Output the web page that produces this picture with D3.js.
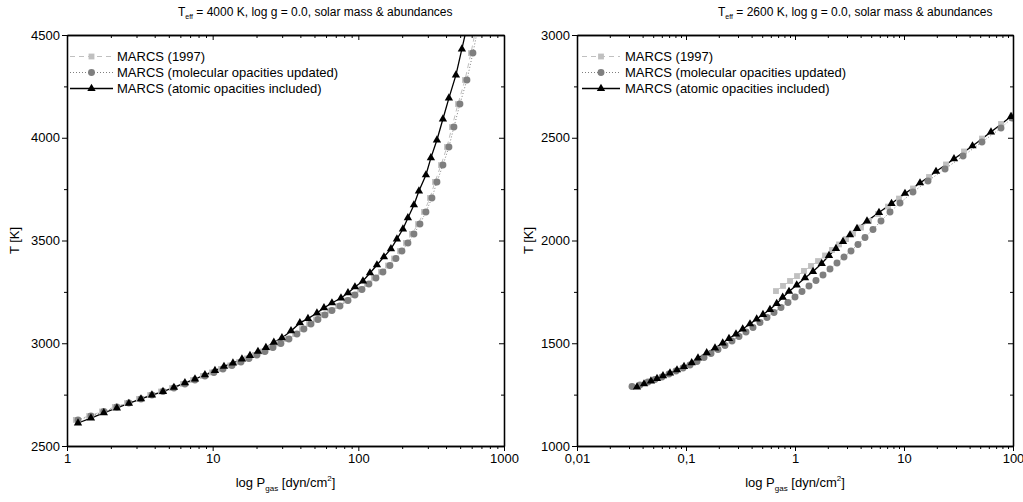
<!DOCTYPE html>
<html>
<head>
<meta charset="utf-8">
<script src="https://cdn.jsdelivr.net/npm/d3@7"></script>
<style>
  body { margin: 0; background: #fff; }
  svg text { font-family: "Liberation Sans", Arial, sans-serif; fill: #000; }
</style>
</head>
<body>
<div id="chart"></div>
<script>
// ---- left panel: Teff = 4000 K ----
const leftP_1997 = [1.15, 1.42, 1.74, 2.13, 2.58, 3.12, 3.72, 4.42, 5.26, 6.26, 7.33, 8.58, 9.89, 11.4, 13.2, 15.2, 17.2, 19.5, 22.2, 25.2, 28.5, 32.4, 36.8, 41.0, 45.9, 51.2, 57.2, 63.9, 72.6, 82.4, 92.0, 102.7, 114.7, 128.1, 143.1, 159.9, 175.8, 193.2, 212.4, 233.6, 256.9, 282.4, 310.4, 336.0, 369.4, 406.0, 439.5, 483.2, 539.8, 593.3, 642.3]
const leftT_1997 = [2627, 2646, 2668, 2690, 2709, 2729, 2748, 2765, 2782, 2802, 2821, 2841, 2858, 2875, 2892, 2909, 2926, 2943, 2960, 2979, 2999, 3021, 3045, 3069, 3094, 3116, 3138, 3159, 3181, 3208, 3235, 3262, 3288, 3318, 3347, 3378, 3412, 3449, 3488, 3532, 3580, 3639, 3707, 3785, 3867, 3955, 4052, 4164, 4281, 4412, 4534]

const leftP_mol = [1.19, 1.46, 1.79, 2.20, 2.66, 3.22, 3.83, 4.56, 5.42, 6.45, 7.56, 8.85, 10.2, 11.77, 13.57, 15.64, 17.75, 20.14, 22.86, 25.94, 29.4, 33.4, 37.9, 42.3, 47.3, 52.8, 59.0, 65.9, 74.8, 84.9, 94.8, 105.9, 118.2, 132.1, 147.5, 164.8, 181.2, 199.2, 219, 240.8, 264.8, 291.1, 320, 346.4, 380.8, 418.6, 453.1, 498.1, 556.5, 611.7, 662.2]
const leftT_mol = [2627, 2646, 2668, 2690, 2709, 2729, 2748, 2765, 2782, 2802, 2821, 2841, 2858, 2875, 2892, 2909, 2926, 2943, 2960, 2979, 2999, 3021, 3045, 3069, 3094, 3116, 3138, 3159, 3181, 3208, 3235, 3262, 3288, 3318, 3347, 3378, 3412, 3449, 3488, 3532, 3580, 3639, 3707, 3785, 3867, 3955, 4052, 4164, 4281, 4412, 4534]

const leftP_atom = [1.19, 1.46, 1.79, 2.20, 2.66, 3.22, 3.83, 4.56, 5.42, 6.45, 7.56, 8.85, 10.37, 11.96, 13.78, 15.89, 18.03, 20.46, 23.2, 26.3, 29.9, 34.5, 39.7, 45.1, 52.0, 58.1, 65.9, 76.0, 84.9, 94.8, 107.6, 120.2, 134.2, 149.9, 167.4, 184.0, 202.4, 218.9, 240.8, 260.6, 291.1, 314.9, 346.4, 380.8, 418.6, 467.7, 514, 556]
const leftT_atom = [2612, 2636, 2661, 2685, 2707, 2729, 2748, 2765, 2785, 2807, 2826, 2846, 2867, 2887, 2904, 2923, 2940, 2960, 2979, 3004, 3026, 3060, 3099, 3120, 3147, 3172, 3196, 3220, 3245, 3274, 3303, 3342, 3381, 3420, 3459, 3507, 3556, 3610, 3673, 3741, 3819, 3902, 3989, 4091, 4193, 4305, 4432, 4539]

// ---- right panel: Teff = 2600 K ----
const rightP_1997 = [0.669, 0.776, 0.900, 1.043, 1.209, 1.402, 1.626, 1.885, 2.185, 2.533, 2.937, 3.405, 4.032, 4.774, 5.775, 7.134, 8.996, 12.09, 16.96, 24.28, 35.52, 51.94, 77.6, 99]
const rightT_1997 = [1754, 1779, 1803, 1827, 1852, 1876, 1900, 1927, 1954, 1981, 2007, 2034, 2063, 2095, 2129, 2165, 2204, 2253, 2309, 2370, 2433, 2496, 2567, 2608]

const rightP_mol = [0.03196, 0.0378, 0.0448, 0.0519, 0.0602, 0.0698, 0.081, 0.0939, 0.1088, 0.1262, 0.1463, 0.1696, 0.1966, 0.2279, 0.2642, 0.3063, 0.3552, 0.4118, 0.4774, 0.5535, 0.6418, 0.744, 0.8625, 1.0, 1.159, 1.344, 1.558, 1.807, 2.095, 2.428, 2.816, 3.265, 3.784, 4.387, 5.195, 6.152, 7.44, 9.19, 12.09, 16.6, 23.8, 34.8, 51.9, 77.6, 98]
const rightT_mol = [1290, 1297, 1311, 1324, 1336, 1350, 1365, 1380, 1394, 1411, 1431, 1450, 1470, 1489, 1511, 1533, 1555, 1577, 1601, 1625, 1650, 1674, 1698, 1725, 1752, 1779, 1805, 1832, 1861, 1891, 1920, 1949, 1981, 2015, 2054, 2095, 2139, 2182, 2236, 2290, 2348, 2411, 2479, 2547, 2596]

const rightP_atom = [0.0355, 0.0412, 0.0477, 0.0542, 0.0615, 0.0713, 0.0827, 0.0959, 0.1128, 0.1288, 0.1548, 0.1845, 0.2172, 0.248, 0.2875, 0.3313, 0.3866, 0.4452, 0.5085, 0.5896, 0.6793, 0.7711, 0.881, 1.037, 1.235, 1.463, 1.758, 2.05, 2.377, 2.756, 3.196, 3.706, 4.578, 5.897, 7.68, 10.21, 14.03, 19.67, 28.75, 42.5, 62.8, 95.9]
const rightT_atom = [1287, 1302, 1316, 1328, 1341, 1355, 1370, 1386, 1405, 1428, 1453, 1477, 1501, 1523, 1545, 1569, 1594, 1618, 1640, 1664, 1693, 1723, 1752, 1783, 1818, 1849, 1888, 1927, 1961, 1995, 2027, 2058, 2095, 2136, 2180, 2229, 2280, 2336, 2397, 2460, 2528, 2603]

const seriesNames = ["MARCS (1997)", "MARCS (molecular opacities updated)", "MARCS (atomic opacities included)"]
const leftXTicks = [1, 10, 100, 1000]
const rightXTicks = [0.01, 0.1, 1, 10, 100]
const leftXLabels = ["1", "10", "100", "1000"]
const rightXLabels = ["0,01", "0,1", "1", "10", "100"]
const leftYTicks = [2500, 3000, 3500, 4000, 4500]
const rightYTicks = [1000, 1500, 2000, 2500, 3000]

const styles = [
    {color: "#c0c0c0", dash: "5,4", width: 1, symbol: d3.symbolSquare, size: 34},
    {color: "#7f7f7f", dash: "1,2", width: 1, symbol: d3.symbolCircle, size: 38},
    {color: "#000000", dash: null, width: 1.3, symbol: d3.symbolTriangle, size: 30}
]

function zip(P, T){ return P.map((p,i) => ({p:p, t:T[i]})) }

const panels = [
    {id:"L", x0:67, x1:504, y0:35, y1:446, xDomain:[1,1000], yDomain:[2500,4500],
     xTicks:leftXTicks, xLabels:leftXLabels, yTicks:leftYTicks,
     series:[zip(leftP_1997,leftT_1997), zip(leftP_mol,leftT_mol), zip(leftP_atom,leftT_atom)],
     teff:"4000", titleX:178, yTitleX:14, legLine:[70,113], legText:117},
    {id:"R", x0:577, x1:1013, y0:35, y1:446, xDomain:[0.01,100], yDomain:[1000,3000],
     xTicks:rightXTicks, xLabels:rightXLabels, yTicks:rightYTicks,
     series:[zip(rightP_1997,rightT_1997), zip(rightP_mol,rightT_mol), zip(rightP_atom,rightT_atom)],
     teff:"2600", titleX:718, yTitleX:528, legLine:[582,620], legText:625}
]

const svg = d3.select("#chart").append("svg").attr("width",1023).attr("height",502)

panels.forEach(pn => drawPanel(svg, pn))

function drawPanel(svg, pn){
    const sc = addScales(pn)
    addSeries(svg, sc, pn)
    addAxes(svg, sc, pn)
    addLegend(svg, pn)
    addLabels(svg, pn)
}

function addScales(pn){
    const x = d3.scaleLog().domain(pn.xDomain).range([pn.x0, pn.x1])
    const y = d3.scaleLinear().domain(pn.yDomain).range([pn.y1, pn.y0])
    return {x, y}
}

function styleAxis(g){
    g.select(".domain").attr("stroke","#000").attr("stroke-width",1.3)
    g.selectAll(".tick line").attr("stroke","#000").attr("stroke-width",1)
    g.selectAll(".tick text").attr("font-size","13px").attr("font-family","Liberation Sans, Arial, sans-serif")
}

function addAxes(svg, sc, pn){
    const xMinor = sc.x.ticks().filter(v => !pn.xTicks.some(t => Math.abs(t-v)/t < 1e-9))
    const yStep = pn.yTicks[1]-pn.yTicks[0]
    const yMinor = pn.yTicks.slice(0,-1).map(v => v + yStep/2)
    const fmt = d => pn.xLabels[pn.xTicks.findIndex(t => Math.abs(t-d)/t < 1e-9)]

    // bottom
    svg.append("g").attr("transform",`translate(0,${pn.y1})`)
      .call(d3.axisBottom(sc.x).tickValues(pn.xTicks).tickFormat(fmt).tickSize(5).tickSizeOuter(0).tickPadding(3))
      .call(styleAxis)
    svg.append("g").attr("transform",`translate(0,${pn.y1})`)
      .call(d3.axisBottom(sc.x).tickValues(xMinor).tickFormat("").tickSize(3).tickSizeOuter(0))
      .call(styleAxis)
    // top (ticks inward)
    svg.append("g").attr("transform",`translate(0,${pn.y0})`)
      .call(d3.axisTop(sc.x).tickValues(pn.xTicks).tickFormat("").tickSize(-5).tickSizeOuter(0))
      .call(styleAxis)
    svg.append("g").attr("transform",`translate(0,${pn.y0})`)
      .call(d3.axisTop(sc.x).tickValues(xMinor).tickFormat("").tickSize(-3).tickSizeOuter(0))
      .call(styleAxis)
    // left
    svg.append("g").attr("transform",`translate(${pn.x0},0)`)
      .call(d3.axisLeft(sc.y).tickValues(pn.yTicks).tickFormat(d3.format("d")).tickSize(5).tickSizeOuter(0).tickPadding(2))
      .call(styleAxis)
    svg.append("g").attr("transform",`translate(${pn.x0},0)`)
      .call(d3.axisLeft(sc.y).tickValues(yMinor).tickFormat("").tickSize(3).tickSizeOuter(0))
      .call(styleAxis)
    // right (ticks inward)
    svg.append("g").attr("transform",`translate(${pn.x1},0)`)
      .call(d3.axisRight(sc.y).tickValues(pn.yTicks).tickFormat("").tickSize(-5).tickSizeOuter(0))
      .call(styleAxis)
    svg.append("g").attr("transform",`translate(${pn.x1},0)`)
      .call(d3.axisRight(sc.y).tickValues(yMinor).tickFormat("").tickSize(-3).tickSizeOuter(0))
      .call(styleAxis)
}

function addSeries(svg, sc, pn){
    svg.append("clipPath").attr("id","clip"+pn.id).append("rect")
      .attr("x",pn.x0).attr("y",pn.y0).attr("width",pn.x1-pn.x0).attr("height",pn.y1-pn.y0)
    const g = svg.append("g").attr("clip-path",`url(#clip${pn.id})`)
    const line = d3.line().x(d => sc.x(d.p)).y(d => sc.y(d.t))

    pn.series.forEach((data,i) => {
        const st = styles[i]
        g.append("path").datum(data).attr("fill","none").attr("stroke",st.color)
          .attr("stroke-width",st.width).attr("stroke-dasharray",st.dash).attr("d",line)
    })
    pn.series.forEach((data,i) => {
        const st = styles[i]
        g.selectAll(null).data(data).enter().append("path")
          .attr("transform", d => `translate(${sc.x(d.p)},${sc.y(d.t)})`)
          .attr("d", d3.symbol().type(st.symbol).size(st.size)).attr("fill",st.color)
    })
}

function addLegend(svg, pn){
    const rows = [56.5, 72.5, 88.5]
    const mid = (pn.legLine[0]+pn.legLine[1])/2
    seriesNames.forEach((name,i) => {
        const st = styles[i]
        svg.append("line").attr("x1",pn.legLine[0]).attr("x2",pn.legLine[1]).attr("y1",rows[i]).attr("y2",rows[i])
          .attr("stroke",st.color).attr("stroke-width",st.width).attr("stroke-dasharray",st.dash)
        svg.append("path").attr("transform",`translate(${mid},${rows[i]})`)
          .attr("d", d3.symbol().type(st.symbol).size(st.size)).attr("fill",st.color)
        svg.append("text").attr("x",pn.legText).attr("y",rows[i]).attr("dy","0.35em")
          .attr("font-size","13px").text(name)
    })
}

function addLabels(svg, pn){
    const t = svg.append("text").attr("x",pn.titleX).attr("y",16).attr("font-size","12px")
    t.append("tspan").text("T")
    t.append("tspan").attr("font-size","7px").attr("dy",3).text("eff")
    t.append("tspan").attr("dy",-3).text(` = ${pn.teff} K, log g = 0.0, solar mass & abundances`)

    const xt = svg.append("text").attr("x",(pn.x0+pn.x1)/2).attr("y",487)
      .attr("text-anchor","middle").attr("font-size","13px")
    xt.append("tspan").text("log P")
    xt.append("tspan").attr("font-size","8px").attr("dy",4).text("gas")
    xt.append("tspan").attr("dy",-4).text(" [dyn/cm")
    xt.append("tspan").attr("font-size","8px").attr("dy",-6).text("2")
    xt.append("tspan").attr("dy",6).text("]")

    svg.append("text").attr("transform",`translate(${pn.yTitleX},${(pn.y0+pn.y1)/2}) rotate(-90)`)
      .attr("text-anchor","middle").attr("dy","0.35em").attr("font-size","13px").text("T [K]")
}
</script>
</body>
</html>
